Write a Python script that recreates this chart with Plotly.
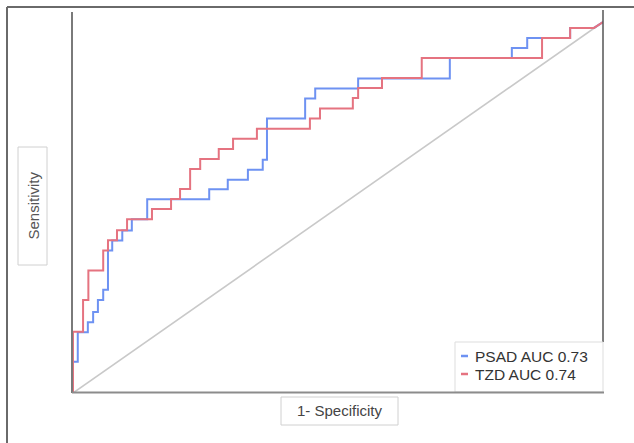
import plotly.graph_objects as go

# ---- data (ROC points: fpr at each vertical step, tpr reached) ----
psad_fpr = [0, 0, 0.009, 0.028, 0.038, 0.047, 0.057, 0.066, 0.074, 0.093,
            0.111, 0.140, 0.257, 0.292, 0.330, 0.358, 0.366, 0.438, 0.457, 0.538,
            0.711, 0.828, 0.857, 0.938, 0.983, 1.0]
psad_tpr = [0, 0.084, 0.164, 0.191, 0.218, 0.251, 0.278, 0.384, 0.411, 0.438,
            0.468, 0.522, 0.549, 0.575, 0.602, 0.629, 0.740, 0.794, 0.821, 0.848,
            0.903, 0.930, 0.957, 0.984, 0.984, 1.0]

tzd_fpr = [0, 0, 0.019, 0.029, 0.057, 0.066, 0.083, 0.102, 0.149, 0.185,
           0.202, 0.221, 0.240, 0.275, 0.302, 0.347, 0.447, 0.466, 0.528, 0.538,
           0.583, 0.658, 0.885, 0.938, 0.983, 1.0]
tzd_tpr = [0, 0.165, 0.251, 0.330, 0.384, 0.412, 0.439, 0.468, 0.496, 0.523,
           0.550, 0.604, 0.631, 0.658, 0.685, 0.712, 0.740, 0.767, 0.795, 0.822,
           0.849, 0.903, 0.957, 0.984, 0.984, 1.0]

ref_x = [0, 1]
ref_y = [0, 1]

series_names = ["PSAD AUC 0.73", "TZD AUC 0.74"]
x_title = "1- Specificity"
y_title = "Sensitivity"

BLUE = "#6e92f2"
RED = "#e57380"
FONT = "Liberation Sans, Arial, sans-serif"

# ---- layout geometry (pixels) ----
W, H = 634, 443
L, R, T, B = 73, 603, 12, 393


def px(x):
    return (x - L) / (R - L)


def py(y):
    return (B - y) / (B - T)


def steps(xs, ys):
    """Expand ROC points into a staircase (horizontal then vertical);
    the final point is joined directly."""
    sx, sy = [xs[0]], [ys[0]]
    for i in range(1, len(xs) - 1):
        sx += [xs[i], xs[i]]
        sy += [ys[i - 1], ys[i]]
    sx.append(xs[-1])
    sy.append(ys[-1])
    return sx, sy


fig = go.Figure()
fig.add_trace(go.Scatter(x=ref_x, y=ref_y, mode="lines",
                         line=dict(color="#c9c9c9", width=1.6),
                         showlegend=False, hoverinfo="skip"))
bx, by = steps(psad_fpr, psad_tpr)
fig.add_trace(go.Scatter(x=bx, y=by, mode="lines", name=series_names[0],
                         line=dict(color=BLUE, width=2), showlegend=False))
rx, ry = steps(tzd_fpr, tzd_tpr)
fig.add_trace(go.Scatter(x=rx, y=ry, mode="lines", name=series_names[1],
                         line=dict(color=RED, width=2), showlegend=False))

shapes = [
    # outer frame (top and left)
    dict(type="line", xref="paper", yref="paper", x0=px(7), x1=px(640), y0=py(7), y1=py(7),
         line=dict(color="#6a6a6a", width=2)),
    dict(type="line", xref="paper", yref="paper", x0=px(7), x1=px(7), y0=py(7), y1=py(450),
         line=dict(color="#6a6a6a", width=2)),
    # right edge of plot
    dict(type="line", xref="paper", yref="paper", x0=px(603), x1=px(603), y0=py(10), y1=py(342),
         line=dict(color="#555555", width=1.5)),
    # legend box
    dict(type="rect", xref="paper", yref="paper", x0=px(455), x1=px(603), y0=py(342), y1=py(392),
         fillcolor="white", line=dict(color="#dddddd", width=1), layer="above"),
    dict(type="line", xref="paper", yref="paper", x0=px(461), x1=px(468), y0=py(356), y1=py(356),
         line=dict(color=BLUE, width=2.5), layer="above"),
    dict(type="line", xref="paper", yref="paper", x0=px(461), x1=px(468), y0=py(374), y1=py(374),
         line=dict(color=RED, width=2.5), layer="above"),
    # axis title boxes
    dict(type="rect", xref="paper", yref="paper", x0=px(18), x1=px(47), y0=py(147), y1=py(265),
         line=dict(color="#d0d0d0", width=1)),
    dict(type="rect", xref="paper", yref="paper", x0=px(281), x1=px(398), y0=py(397), y1=py(425),
         line=dict(color="#d0d0d0", width=1)),
    # bottom axis line over legend edge
    dict(type="line", xref="paper", yref="paper", x0=px(72), x1=px(604), y0=py(392.5), y1=py(392.5),
         line=dict(color="#8c8c8c", width=2.2), layer="above"),
]

annotations = [
    dict(xref="paper", yref="paper", x=px(473), y=py(356), text=series_names[0],
         showarrow=False, xanchor="left", yanchor="middle",
         font=dict(family=FONT, size=15.5, color="#333333")),
    dict(xref="paper", yref="paper", x=px(473), y=py(374), text=series_names[1],
         showarrow=False, xanchor="left", yanchor="middle",
         font=dict(family=FONT, size=15.5, color="#333333")),
    dict(xref="paper", yref="paper", x=px(32.5), y=py(206), text=y_title, textangle=-90,
         showarrow=False, xanchor="center", yanchor="middle",
         font=dict(family=FONT, size=15, color="#555555")),
    dict(xref="paper", yref="paper", x=px(339.5), y=py(411), text=x_title,
         showarrow=False, xanchor="center", yanchor="middle",
         font=dict(family=FONT, size=15, color="#444444")),
]

fig.update_layout(
    width=W, height=H,
    margin=dict(l=L, r=W - R, t=T, b=H - B, pad=0),
    paper_bgcolor="white", plot_bgcolor="white",
    shapes=shapes, annotations=annotations,
    showlegend=False,
    xaxis=dict(range=[0, 1], showgrid=False, zeroline=False, showticklabels=False,
               ticks="", showline=False),
    yaxis=dict(range=[0, (B - T) / 371], showgrid=False, zeroline=False,
               showticklabels=False, ticks="", showline=True, linecolor="#7a7a7a",
               linewidth=2),
)

fig.write_html("out.html", config={"displayModeBar": False},
               post_script="document.body.style.margin='0';document.body.style.overflow='hidden';")
